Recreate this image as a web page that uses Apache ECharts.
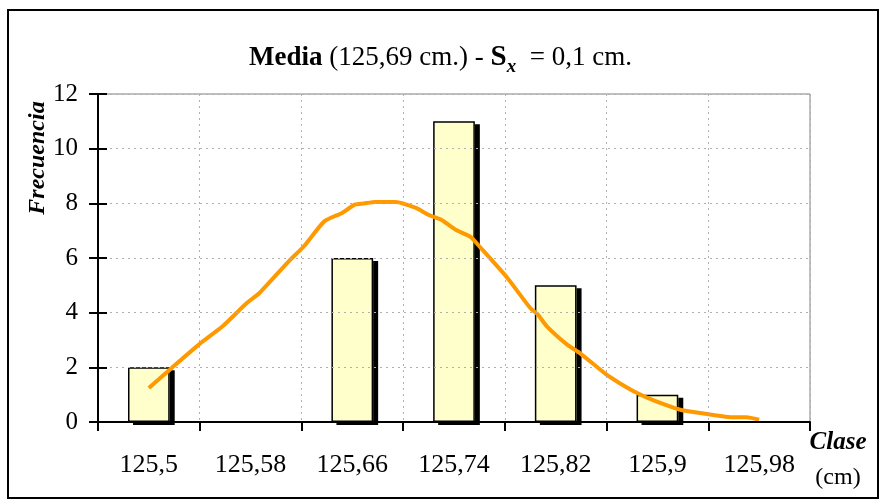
<!DOCTYPE html>
<html>
<head>
<meta charset="utf-8">
<script src="https://cdn.jsdelivr.net/npm/echarts@6/dist/echarts.min.js"></script>
<style>
html,body{margin:0;padding:0;background:#fff;}
#chart{width:881px;height:500px;}
</style>
</head>
<body>
<div id="chart"></div>
<script>
// ---- data ----
var categories = ['125,5', '125,58', '125,66', '125,74', '125,82', '125,9', '125,98'];
var frequencies = [2, 0, 6, 11, 5, 1, 0];
var curveX = [125.5, 125.518, 125.54, 125.558, 125.577, 125.587, 125.61, 125.622, 125.638, 125.652,
              125.662, 125.669, 125.678, 125.694, 125.71, 125.72, 125.73, 125.741, 125.753, 125.761,
              125.782, 125.80, 125.806, 125.813, 125.829, 125.839, 125.86, 125.87, 125.884, 125.897,
              125.918, 125.938, 125.96, 125.97, 125.98];
var curveY = [1.24, 1.98, 2.86, 3.50, 4.35, 4.72, 5.88, 6.43, 7.34, 7.65,
              7.95, 7.99, 8.05, 8.05, 7.83, 7.58, 7.40, 7.04, 6.77, 6.37,
              5.27, 4.17, 3.93, 3.50, 2.83, 2.52, 1.73, 1.43, 1.06, 0.79,
              0.45, 0.30, 0.17, 0.17, 0.08];
var yTicks = [0, 2, 4, 6, 8, 10, 12];

var FONT = '"Liberation Serif", "Times New Roman", serif';
var curveData = curveX.map(function (x, i) { return [x, curveY[i]]; });
// empty classes (0) draw no bar
var barData = frequencies.map(function (v) { return v === 0 ? null : v; });

var chart = echarts.init(document.getElementById('chart'), null, {renderer: 'canvas'});
chart.setOption({
  backgroundColor: '#fff',
  animation: false,
  title: {
    text: '{b|Media}{n| (125,69 cm.) - }{s|S}{sub|x}{n|  = 0,1 cm.}',
    left: 'center',
    top: 34,
    textStyle: {
      rich: {
        b: {fontFamily: FONT, fontWeight: 'bold', fontSize: 27, color: '#000', lineHeight: 38, verticalAlign: 'middle'},
        n: {fontFamily: FONT, fontWeight: 'normal', fontSize: 27, color: '#000', lineHeight: 38, verticalAlign: 'middle'},
        s: {fontFamily: FONT, fontWeight: 'bold', fontSize: 29, color: '#000', lineHeight: 38, verticalAlign: 'middle'},
        sub: {fontFamily: FONT, fontWeight: 'bold', fontStyle: 'italic', fontSize: 19, color: '#000', lineHeight: 19, verticalAlign: 'bottom'}
      }
    }
  },
  grid: {left: 98, right: 71, top: 94, bottom: 78, show: true, borderColor: '#808080', borderWidth: 1, backgroundColor: '#fff'},
  xAxis: [
    {
      type: 'category',
      data: categories,
      boundaryGap: true,
      axisLine: {show: true, lineStyle: {color: '#000', width: 2}},
      axisTick: {show: true, length: 9, inside: false, lineStyle: {color: '#000', width: 2}},
      axisLabel: {fontFamily: FONT, fontSize: 26, color: '#000', margin: 30},
      splitLine: {show: true, lineStyle: {color: '#b0b0b0', type: [2, 4], width: 1}},
      z: 5
    },
    {
      type: 'value',
      min: 125.46,
      max: 126.02,
      show: false
    }
  ],
  yAxis: [
    {
      type: 'value',
      min: 0,
      max: 12,
      interval: 2,
      axisLine: {show: true, lineStyle: {color: '#000', width: 2}},
      axisTick: {show: true, length: 9, lineStyle: {color: '#000', width: 2}},
      axisLabel: {fontFamily: FONT, fontSize: 25, color: '#000', margin: 20,
        formatter: function (v) { return yTicks.indexOf(v) >= 0 ? String(v) : ''; }},
      splitLine: {show: true, lineStyle: {color: '#b0b0b0', type: [2, 4], width: 1}},
      z: 5
    },
    {
      type: 'value',
      position: 'left',
      min: 0,
      max: 12,
      interval: 2,
      axisLine: {show: false},
      axisTick: {show: true, length: 9, inside: true, lineStyle: {color: '#000', width: 2}},
      axisLabel: {show: false},
      splitLine: {show: false},
      z: 5
    }
  ],
  series: [
    {
      // shadow layer (fill only, casts the black drop shadow)
      type: 'bar',
      data: barData,
      xAxisIndex: 0,
      yAxisIndex: 0,
      barWidth: '41%',
      itemStyle: {
        color: '#FFFFCC',
        borderWidth: 0,
        shadowColor: '#000',
        shadowBlur: 0,
        shadowOffsetX: 5,
        shadowOffsetY: 3
      },
      z: 2
    },
    {
      // outline layer
      type: 'bar',
      data: barData,
      xAxisIndex: 0,
      yAxisIndex: 0,
      barWidth: '41%',
      barGap: '-100%',
      itemStyle: {
        color: 'rgba(0,0,0,0)',
        borderColor: '#000',
        borderWidth: 1.5
      },
      z: 2
    },
    {
      type: 'line',
      data: curveData,
      xAxisIndex: 1,
      yAxisIndex: 0,
      showSymbol: false,
      symbol: 'none',
      smooth: 0.2,
      lineStyle: {color: '#FF9900', width: 4},
      z: 3
    }
  ],
  graphic: [
    {
      type: 'rect',
      shape: {x: 8, y: 10, width: 870, height: 488},
      style: {fill: 'none', stroke: '#000', lineWidth: 2},
      z: 100
    },
    {
      type: 'text',
      x: 38, y: 158,
      rotation: Math.PI / 2,
      style: {text: 'Frecuencia', font: 'italic bold 24px ' + FONT, fill: '#000', align: 'center', verticalAlign: 'middle'},
      z: 100
    },
    {
      type: 'text',
      x: 838, y: 443,
      style: {text: 'Clase', font: 'italic bold 25px ' + FONT, fill: '#000', align: 'center', verticalAlign: 'middle'},
      z: 100
    },
    {
      type: 'text',
      x: 838, y: 478,
      style: {text: '(cm)', font: 'normal 24px ' + FONT, fill: '#000', align: 'center', verticalAlign: 'middle'},
      z: 100
    }
  ]
});
</script>
</body>
</html>
